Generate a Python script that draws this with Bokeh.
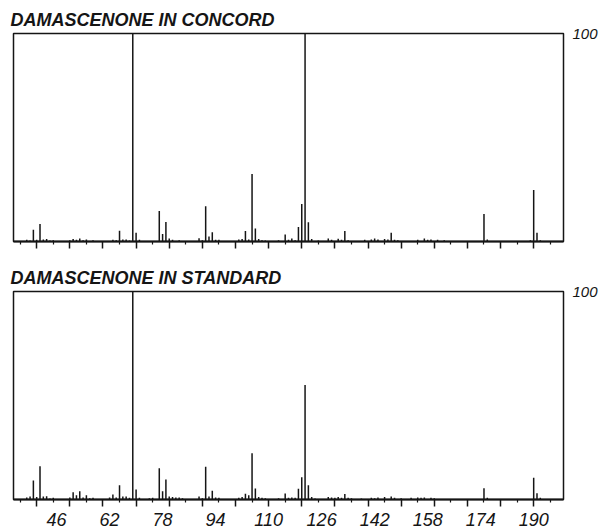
from bokeh.plotting import figure
from bokeh.layouts import column
from bokeh.models import FixedTicker, LinearAxis, Range1d, Spacer, CustomJSTickFormatter
from bokeh.embed import file_html
from bokeh.resources import INLINE

# ---------------- data ----------------
panel_titles = ["DAMASCENONE IN CONCORD", "DAMASCENONE IN STANDARD"]
y_top_label = [100]

x_major_ticks = list(range(40, 200, 10))
x_minor_ticks = list(range(35, 200, 10))
x_tick_labels = [30, 46, 62, 78, 94, 110, 126, 142, 158, 174, 190]

concord_mz = [37, 38, 39, 40, 41, 42, 43, 44, 45, 50, 51, 52, 53, 54, 55, 57,
              63, 64, 65, 66, 67, 68, 69, 70, 71, 77, 78, 79, 80, 81, 83,
              89, 90, 91, 92, 93, 94, 95, 101, 102, 103, 104, 105, 106, 107, 108, 109,
              113, 115, 116, 117, 118, 119, 120, 121, 122, 123, 125,
              128, 129, 131, 132, 133, 134, 139, 141, 142, 143, 145, 146, 147, 148, 149,
              155, 157, 158, 159, 161, 163, 175, 176, 189, 190, 191, 192]
concord_int = [0.8, 0.5, 5.6, 0.8, 8.4, 1.0, 1.2, 0.5, 0.6, 0.6, 1.2, 0.8, 1.5, 0.6, 1.0, 0.6,
               0.8, 0.6, 5.2, 1.0, 1.0, 0.5, 100, 4.2, 0.8, 14.7, 3.6, 9.4, 1.5, 0.8, 0.6,
               1.6, 0.6, 17.0, 2.4, 4.4, 0.8, 0.8, 1.0, 1.2, 5.1, 1.0, 32.5, 6.3, 1.2, 0.6, 0.5,
               0.6, 3.4, 0.8, 1.5, 0.6, 7.0, 18.0, 100, 9.3, 1.2, 0.5,
               1.4, 0.8, 1.3, 0.8, 5.0, 0.6, 0.8, 1.0, 1.5, 1.0, 1.2, 1.0, 4.2, 0.8, 0.6,
               0.8, 1.5, 0.8, 1.0, 0.8, 0.6, 13.2, 1.0, 0.6, 24.8, 4.2, 0.6]

standard_mz = [37, 38, 39, 40, 41, 42, 43, 44, 45, 50, 51, 52, 53, 54, 55, 56, 57,
               62, 63, 64, 65, 66, 67, 68, 69, 70, 71, 74, 75, 77, 78, 79, 80, 81, 82, 83, 84,
               89, 90, 91, 92, 93, 94, 95, 101, 102, 103, 104, 105, 106, 107, 108, 109,
               113, 115, 116, 117, 118, 119, 120, 121, 122, 123, 124,
               128, 129, 130, 131, 132, 133, 134, 135, 138, 141, 142, 143, 145, 147, 148, 150,
               153, 155, 156, 157, 159, 160, 175, 176, 190, 191, 192]
standard_int = [1.0, 1.5, 9.1, 1.2, 16.0, 1.5, 1.6, 0.5, 0.8, 1.0, 3.5, 2.0, 4.0, 1.0, 2.0, 0.6, 0.8,
                1.0, 2.4, 1.0, 6.8, 1.5, 1.5, 0.8, 100, 4.8, 0.8, 0.6, 0.8, 15.0, 4.0, 9.6, 1.5, 1.2, 1.0, 1.0, 0.6,
                1.4, 0.6, 15.7, 1.5, 4.2, 1.0, 0.8, 0.8, 1.2, 2.8, 2.0, 22.2, 5.3, 1.2, 0.8, 0.6,
                0.6, 2.9, 0.8, 1.0, 0.8, 5.2, 10.7, 55.0, 6.8, 1.2, 0.5,
                1.2, 1.0, 0.8, 1.2, 0.8, 2.7, 0.8, 0.6, 0.5, 0.8, 0.6, 1.0, 1.2, 1.5, 0.8, 0.6,
                0.8, 1.0, 0.8, 1.0, 0.8, 0.6, 5.4, 0.8, 10.4, 3.0, 0.8]

INK = "#151515"
FONT = "Liberation Sans"
X_START, X_END = 33, 199


def make_panel(title, mz, inten, show_labels, border_bottom):
    p = figure(frame_width=550, frame_height=208,
               x_range=Range1d(X_START, X_END), y_range=Range1d(0, 100),
               y_axis_location="right", output_backend="svg", toolbar_location=None,
               min_border_left=13, min_border_right=0, min_border_top=0,
               min_border_bottom=border_bottom, title=title)
    p.background_fill_color = "white"
    p.border_fill_color = "white"
    p.grid.visible = False
    p.outline_line_color = INK
    p.outline_line_width = 1.5

    p.title.text_font = FONT
    p.title.text_font_style = "bold italic"
    p.title.text_font_size = "18px"
    p.title.text_color = INK
    p.title.align = "left"
    p.title.offset = -3
    p.title.standoff = 8

    # right axis: only the "100" mark
    ya = p.yaxis[0]
    ya.ticker = FixedTicker(ticks=y_top_label, minor_ticks=[])
    ya.axis_line_color = None
    ya.major_tick_line_color = None
    ya.minor_tick_line_color = None
    ya.major_label_standoff = 3
    ya.major_label_text_font = FONT
    ya.major_label_text_font_style = "italic"
    ya.major_label_text_font_size = "15px"
    ya.major_label_text_color = INK

    # bottom axis with tick marks every 5 units (no numbers on it)
    xa = p.xaxis[0]
    xa.ticker = FixedTicker(ticks=x_major_ticks, minor_ticks=x_minor_ticks)
    xa.formatter = CustomJSTickFormatter(code="return ''")
    xa.axis_line_color = INK
    xa.axis_line_width = 2
    xa.major_tick_line_color = INK
    xa.major_tick_line_width = 1.5
    xa.major_tick_in = 0
    xa.major_tick_out = 7
    xa.minor_tick_line_color = INK
    xa.minor_tick_line_width = 1.2
    xa.minor_tick_in = 0
    xa.minor_tick_out = 3
    xa.major_label_standoff = 0

    if show_labels:
        # numbers on their own axis; its bounds reach the first label (left of the frame,
        # cut by the page edge as in the original)
        la = LinearAxis(ticker=FixedTicker(ticks=x_tick_labels, minor_ticks=[]),
                        bounds=(x_tick_labels[0], x_tick_labels[-1]))
        la.axis_line_color = None
        la.major_tick_line_color = None
        la.minor_tick_line_color = None
        la.major_label_standoff = 0
        la.major_label_text_font = FONT
        la.major_label_text_font_style = "italic"
        la.major_label_text_font_size = "18px"
        la.major_label_text_color = INK
        p.add_layout(la, "below")

    p.segment(x0=mz, y0=[0] * len(mz), x1=mz, y1=inten, line_color=INK, line_width=1.5)
    return p


p1 = make_panel(panel_titles[0], concord_mz, concord_int, False, 20)
p2 = make_panel(panel_titles[1], standard_mz, standard_int, True, 0)

layout = column(Spacer(width=10, height=3), p1, p2, spacing=0)
open("out.html", "w").write(file_html(layout, INLINE))
